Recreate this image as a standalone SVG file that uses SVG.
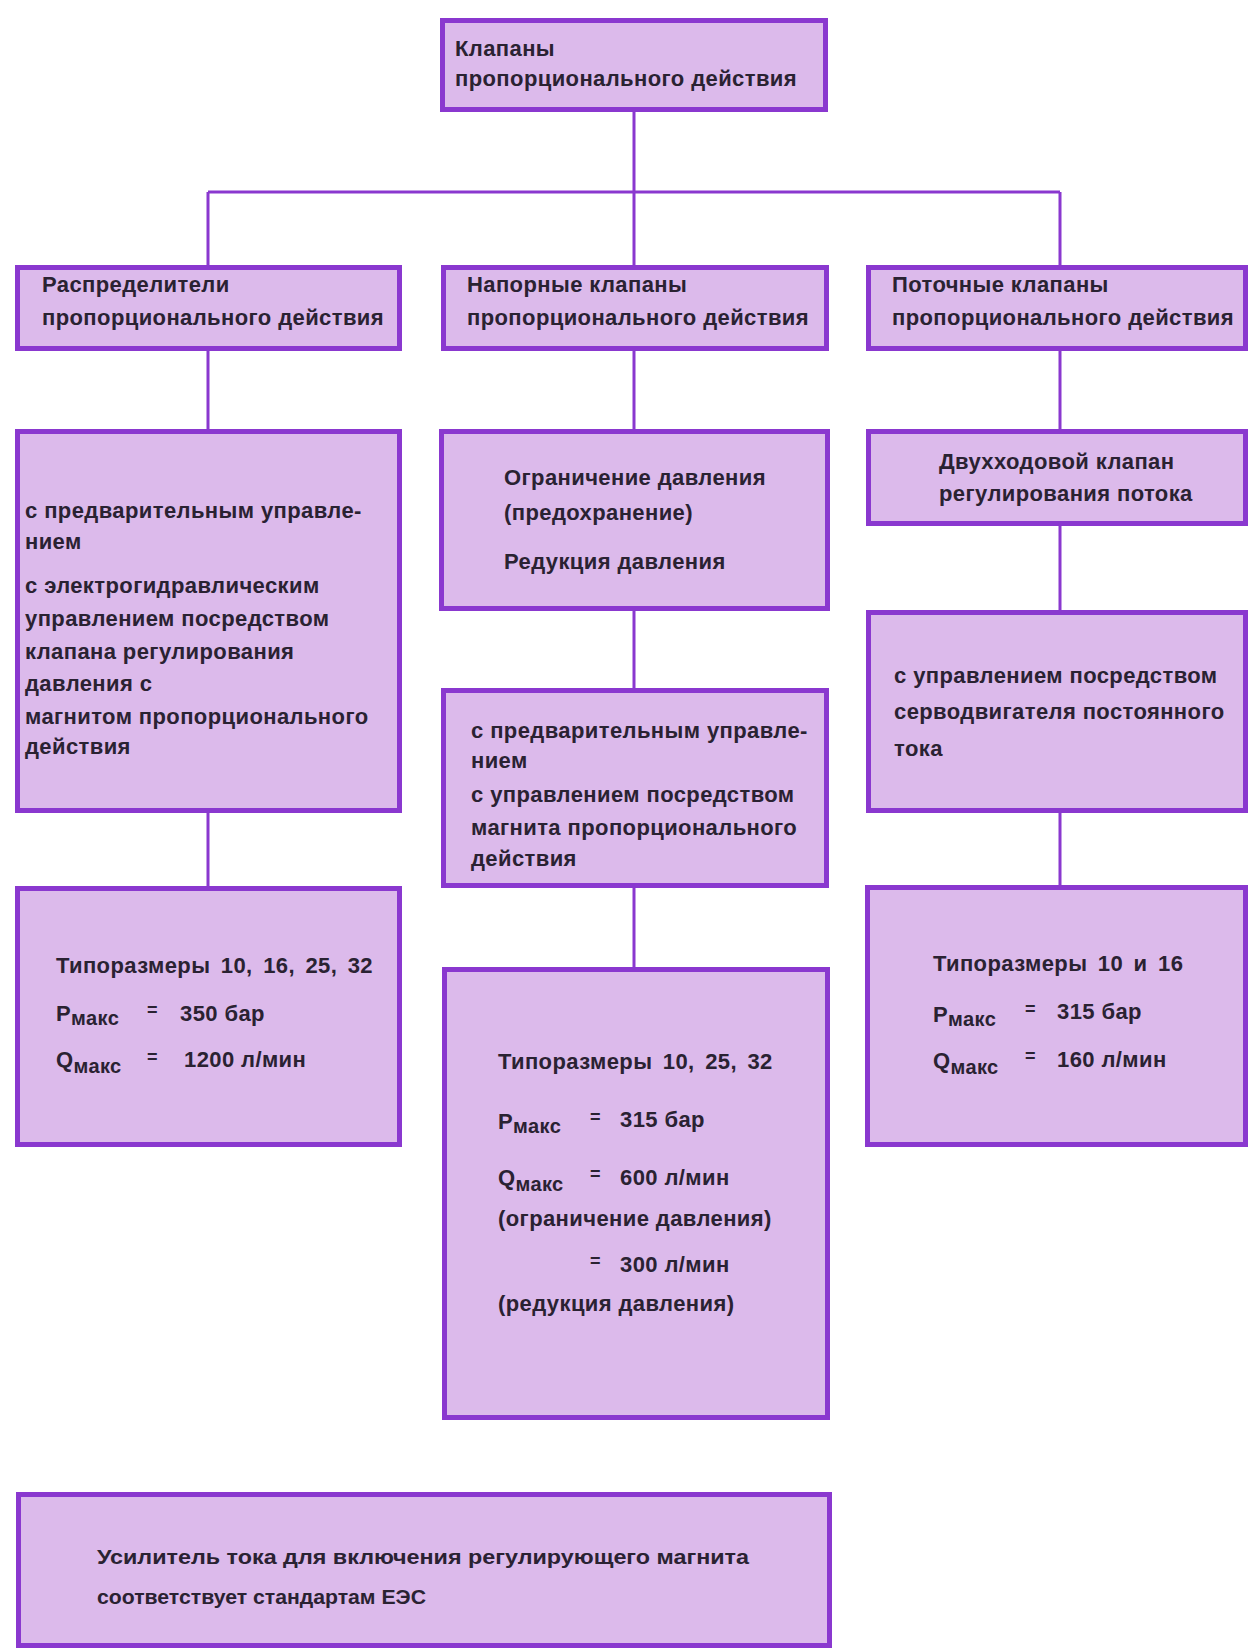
<svg xmlns="http://www.w3.org/2000/svg" width="1250" height="1648" viewBox="0 0 1250 1648">
<style>
.box{fill:#dcbaeb;stroke:#8a38cf;stroke-width:5}
.ln{stroke:#8a38cf;stroke-width:3;fill:none}
text{font-family:"Liberation Sans",Arial,sans-serif;font-weight:bold;font-size:22px;fill:#2a2232;letter-spacing:0.4px}
.sub{font-size:20px}
.eq{font-size:18px}
.ws{word-spacing:4px}
.nar{letter-spacing:0;font-size:21px}
</style>
<rect width="1250" height="1648" fill="#ffffff"/>
<g id="connectors">
<path class="ln" d="M634 112V192M208 192H1060M208 192V265M634 192V265M1060 192V265"/>
<path class="ln" d="M208 351V429M208 813V886"/>
<path class="ln" d="M634 351V429M634 611V688M634 888V967"/>
<path class="ln" d="M1060 351V429M1060 526V610M1060 813V885"/>
</g>
<g id="n-root">
<rect class="box" x="442.5" y="20.5" width="383" height="89"/>
<text x="455" y="56">Клапаны</text>
<text x="455" y="86">пропорционального действия</text>
</g>
<g id="n-distrib">
<rect class="box" x="17.5" y="267.5" width="382" height="81"/>
<text x="42" y="292">Распределители</text>
<text x="42" y="325">пропорционального действия</text>
</g>
<g id="n-pressure">
<rect class="box" x="443.5" y="267.5" width="383" height="81"/>
<text x="467" y="292">Напорные клапаны</text>
<text x="467" y="325">пропорционального действия</text>
</g>
<g id="n-flow">
<rect class="box" x="868.5" y="267.5" width="377" height="81"/>
<text x="892" y="292">Поточные клапаны</text>
<text x="892" y="325">пропорционального действия</text>
</g>
<g id="n-distrib-ctrl">
<rect class="box" x="17.5" y="431.5" width="382" height="379"/>
<text x="25" y="518">с предварительным управле-</text>
<text x="25" y="549">нием</text>
<text x="25" y="593">с электрогидравлическим</text>
<text x="25" y="626">управлением посредством</text>
<text x="25" y="659">клапана регулирования</text>
<text x="25" y="691">давления с</text>
<text x="25" y="724">магнитом пропорционального</text>
<text x="25" y="754">действия</text>
</g>
<g id="n-pressure-types">
<rect class="box" x="441.5" y="431.5" width="386" height="177"/>
<text x="504" y="485">Ограничение давления</text>
<text x="504" y="520">(предохранение)</text>
<text x="504" y="569">Редукция давления</text>
</g>
<g id="n-flow-type">
<rect class="box" x="868.5" y="431.5" width="377" height="92"/>
<text x="939" y="469">Двухходовой клапан</text>
<text x="939" y="501">регулирования потока</text>
</g>
<g id="n-pressure-ctrl">
<rect class="box" x="443.5" y="690.5" width="383" height="195"/>
<text x="471" y="738">с предварительным управле-</text>
<text x="471" y="768">нием</text>
<text x="471" y="802">с управлением посредством</text>
<text x="471" y="835">магнита пропорционального</text>
<text x="471" y="866">действия</text>
</g>
<g id="n-flow-ctrl">
<rect class="box" x="868.5" y="612.5" width="377" height="198"/>
<text x="894" y="683">с управлением посредством</text>
<text x="894" y="719">серводвигателя постоянного</text>
<text x="894" y="756">тока</text>
</g>
<g id="n-distrib-spec">
<rect class="box" x="17.5" y="888.5" width="382" height="256"/>
<text class="ws" x="56" y="973">Типоразмеры 10, 16, 25, 32</text>
<text x="56" y="1021">Р<tspan class="sub" dy="4">макс</tspan></text>
<text class="eq" x="147" y="1016">=</text>
<text x="180" y="1021">350 бар</text>
<text x="56" y="1067">Q<tspan class="sub" dy="6">макс</tspan></text>
<text class="eq" x="147" y="1063">=</text>
<text x="184" y="1067">1200 л/мин</text>
</g>
<g id="n-pressure-spec">
<rect class="box" x="444.5" y="969.5" width="383" height="448"/>
<text class="ws" x="498" y="1069">Типоразмеры 10, 25, 32</text>
<text x="498" y="1129">Р<tspan class="sub" dy="4">макс</tspan></text>
<text class="eq" x="590" y="1123">=</text>
<text x="620" y="1127">315 бар</text>
<text x="498" y="1185">Q<tspan class="sub" dy="6">макс</tspan></text>
<text class="eq" x="590" y="1180">=</text>
<text x="620" y="1185">600 л/мин</text>
<text x="498" y="1226">(ограничение давления)</text>
<text class="eq" x="590" y="1267">=</text>
<text x="620" y="1272">300 л/мин</text>
<text x="498" y="1311">(редукция давления)</text>
</g>
<g id="n-flow-spec">
<rect class="box" x="867.5" y="887.5" width="378" height="257"/>
<text class="ws" x="933" y="971">Типоразмеры 10 и 16</text>
<text x="933" y="1022">Р<tspan class="sub" dy="4">макс</tspan></text>
<text class="eq" x="1025" y="1015">=</text>
<text x="1057" y="1019">315 бар</text>
<text x="933" y="1068">Q<tspan class="sub" dy="6">макс</tspan></text>
<text class="eq" x="1025" y="1062">=</text>
<text x="1057" y="1067">160 л/мин</text>
</g>
<g id="n-amplifier">
<rect class="box" x="18.5" y="1494.5" width="811" height="151"/>
<text class="nar" x="97" y="1564" textLength="652" lengthAdjust="spacingAndGlyphs">Усилитель тока для включения регулирующего магнита</text>
<text class="nar" x="97" y="1604" textLength="329" lengthAdjust="spacingAndGlyphs">соответствует стандартам ЕЭС</text>
</g>
</svg>
